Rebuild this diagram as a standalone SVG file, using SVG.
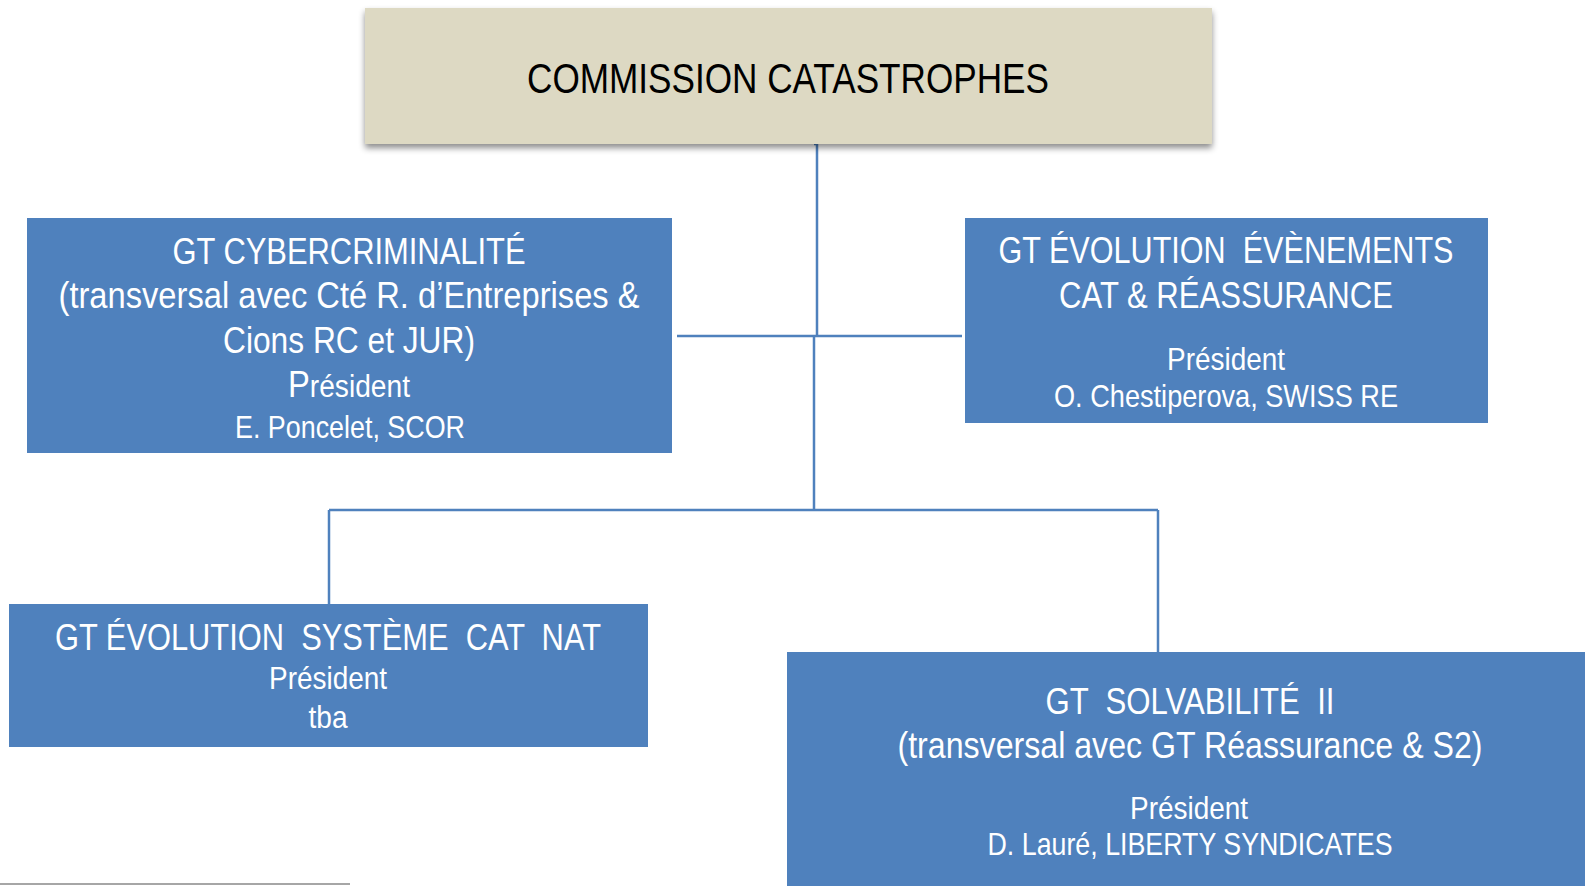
<svg xmlns="http://www.w3.org/2000/svg" width="1585" height="886" viewBox="0 0 1585 886" xml:space="preserve">
<defs>
<filter id="sh" x="-5%" y="-20%" width="110%" height="150%">
<feDropShadow dx="0" dy="4" stdDeviation="3" flood-color="#000" flood-opacity="0.45"/>
</filter>
<style>
.box{fill:#4F81BD;}
.top{fill:#DDD9C3;}
.t{font-family:"Liberation Sans Narrow","Liberation Sans",Arial,sans-serif;fill:#FFFFFF;text-anchor:middle;white-space:pre;}
.h{font-size:36px;}
.n{font-size:32px;}
.k{font-family:"Liberation Sans Narrow","Liberation Sans",Arial,sans-serif;fill:#000;text-anchor:middle;font-size:42px;}
.c{stroke:#4F81BD;stroke-width:2.5;fill:none;}
</style>
</defs>
<rect width="1585" height="886" fill="#FFFFFF"/>
<g id="connectors">
<path class="c" d="M814 144 H817 V336"/>
<path class="c" d="M677 336 H962"/>
<path class="c" d="M814 336 V510"/>
<path class="c" d="M329 510 H1158"/>
<path class="c" d="M329 510 V604"/>
<path class="c" d="M1158 510 V652"/>
</g>
<g id="commission">
<rect class="top" x="365" y="8" width="847" height="136" filter="url(#sh)"/>
<text class="k" x="788" y="93" textLength="522" lengthAdjust="spacingAndGlyphs">COMMISSION CATASTROPHES</text>
</g>
<g id="gt-cyber">
<rect class="box" x="27" y="218" width="645" height="235"/>
<text class="t h" x="349" y="264" textLength="353" lengthAdjust="spacingAndGlyphs">GT CYBERCRIMINALITÉ</text>
<text class="t h" x="349" y="308" textLength="581" lengthAdjust="spacingAndGlyphs">(transversal avec Cté R. d’Entreprises &amp;</text>
<text class="t h" x="349" y="353" textLength="252" lengthAdjust="spacingAndGlyphs">Cions RC et JUR)</text>
<text class="t" x="349" y="397" textLength="122" lengthAdjust="spacingAndGlyphs"><tspan font-size="36">P</tspan><tspan font-size="31">résident</tspan></text>
<text class="t n" x="350" y="438" textLength="230" lengthAdjust="spacingAndGlyphs">E. Poncelet, SCOR</text>
</g>
<g id="gt-evenements">
<rect class="box" x="965" y="218" width="523" height="205"/>
<text class="t h" x="1226" y="263" textLength="455" lengthAdjust="spacingAndGlyphs">GT ÉVOLUTION  ÉVÈNEMENTS</text>
<text class="t h" x="1226" y="308" textLength="334" lengthAdjust="spacingAndGlyphs">CAT &amp; RÉASSURANCE</text>
<text class="t n" x="1226" y="370" textLength="118" lengthAdjust="spacingAndGlyphs">Président</text>
<text class="t n" x="1226" y="407" textLength="344" lengthAdjust="spacingAndGlyphs">O. Chestiperova, SWISS RE</text>
</g>
<g id="gt-catnat">
<rect class="box" x="9" y="604" width="639" height="143"/>
<text class="t h" x="328" y="650" textLength="546" lengthAdjust="spacingAndGlyphs">GT ÉVOLUTION  SYSTÈME  CAT  NAT</text>
<text class="t n" x="328" y="689" textLength="118" lengthAdjust="spacingAndGlyphs">Président</text>
<text class="t n" x="328" y="728" textLength="39" lengthAdjust="spacingAndGlyphs">tba</text>
</g>
<g id="gt-solvabilite">
<rect class="box" x="787" y="652" width="800" height="238"/>
<text class="t h" x="1190" y="714" textLength="289" lengthAdjust="spacingAndGlyphs">GT  SOLVABILITÉ  II</text>
<text class="t h" x="1190" y="758" textLength="585" lengthAdjust="spacingAndGlyphs">(transversal avec GT Réassurance &amp; S2)</text>
<text class="t n" x="1189" y="819" textLength="118" lengthAdjust="spacingAndGlyphs">Président</text>
<text class="t n" x="1190" y="855" textLength="405" lengthAdjust="spacingAndGlyphs">D. Lauré, LIBERTY SYNDICATES</text>
</g>
<line x1="0" y1="884" x2="350" y2="884" stroke="#A6A6A6" stroke-width="2"/>
</svg>
